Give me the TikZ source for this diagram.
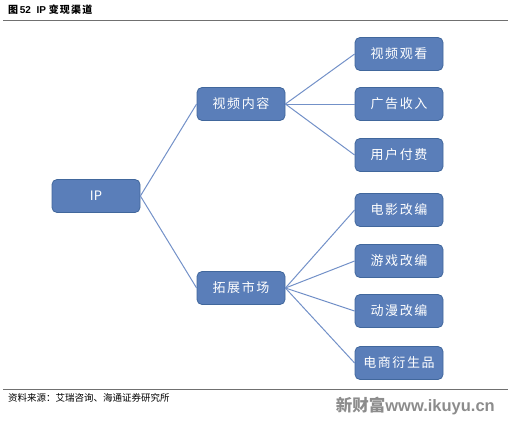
\documentclass[tikz,border=0pt]{standalone}
\usepackage{fontspec}
\setmainfont{Liberation Sans}
\newfontfamily\cjk{Noto Sans CJK SC}
\newfontfamily\cjkwide[LetterSpace=12]{Noto Sans CJK SC}
\usetikzlibrary{positioning}
\definecolor{ipblue}{HTML}{5A7EB9}
\definecolor{ipedge}{HTML}{41679C}
\definecolor{ipline}{HTML}{7391C8}
\definecolor{rulegray}{HTML}{707070}
\tikzset{
  box/.style={draw=ipedge, fill=ipblue, rounded corners=5pt, minimum width=88pt, minimum height=33pt,
    inner sep=0pt, line width=0.8pt, text=white, font=\cjkwide\fontsize{13}{15}\selectfont},
  link/.style={draw=ipline, line width=1pt},
  rule/.style={draw=rulegray, line width=1pt},
}

\begin{document}
\begin{tikzpicture}[x=1pt, y=1pt]
  \useasboundingbox (0,0) rectangle (511,-421);
  % header and footer
  \node[anchor=west, inner sep=0pt, font=\bfseries\fontsize{10}{12}\selectfont] (title) at (8,-10) {{\cjk 图}\,52\ \ IP\ {\cjkwide 变现渠道}};
  \coordinate (tl) at (3,-20); \coordinate (tr) at (508,-20);
  \draw[rule] (tl) -- (tr);
  \coordinate (bl) at (3,-389); \coordinate (br) at (508,-389);
  \draw[rule] (bl) -- (br);
  \node[anchor=west, inner sep=0pt, font=\cjk\fontsize{9.5}{11}\selectfont] (src) at (8,-398) {资料来源：艾瑞咨询、海通证券研究所};
  \node[anchor=east, inner sep=0pt, text=black!45, font=\bfseries\fontsize{16.5}{18}\selectfont] (mark) at (495,-406) {{\cjk 新财富}www.ikuyu.cn};
  % tree
  \node[box, font=\cjk\fontsize{13}{15}\selectfont] (ip) at (96,-196) {IP};
  \node[box] (video) at (241,-104) {视频内容};
  \node[box] (market) at (241,-288) {拓展市场};
  \node[box] (watch) at (399,-54) {视频观看};
  \node[box] (ads) at (399,-104) {广告收入};
  \node[box] (pay) at (399,-155) {用户付费};
  \node[box] (film) at (399,-210) {电影改编};
  \node[box] (game) at (399,-261) {游戏改编};
  \node[box] (anime) at (399,-311) {动漫改编};
  \node[box] (goods) at (399,-363) {电商衍生品};
  \foreach \n in {video,market}\draw[link] (ip.east) -- (\n.west);
  \foreach \n in {watch,ads,pay}\draw[link] (video.east) -- (\n.west);
  \foreach \n in {film,game,anime,goods}\draw[link] (market.east) -- (\n.west);
\end{tikzpicture}
\end{document}
